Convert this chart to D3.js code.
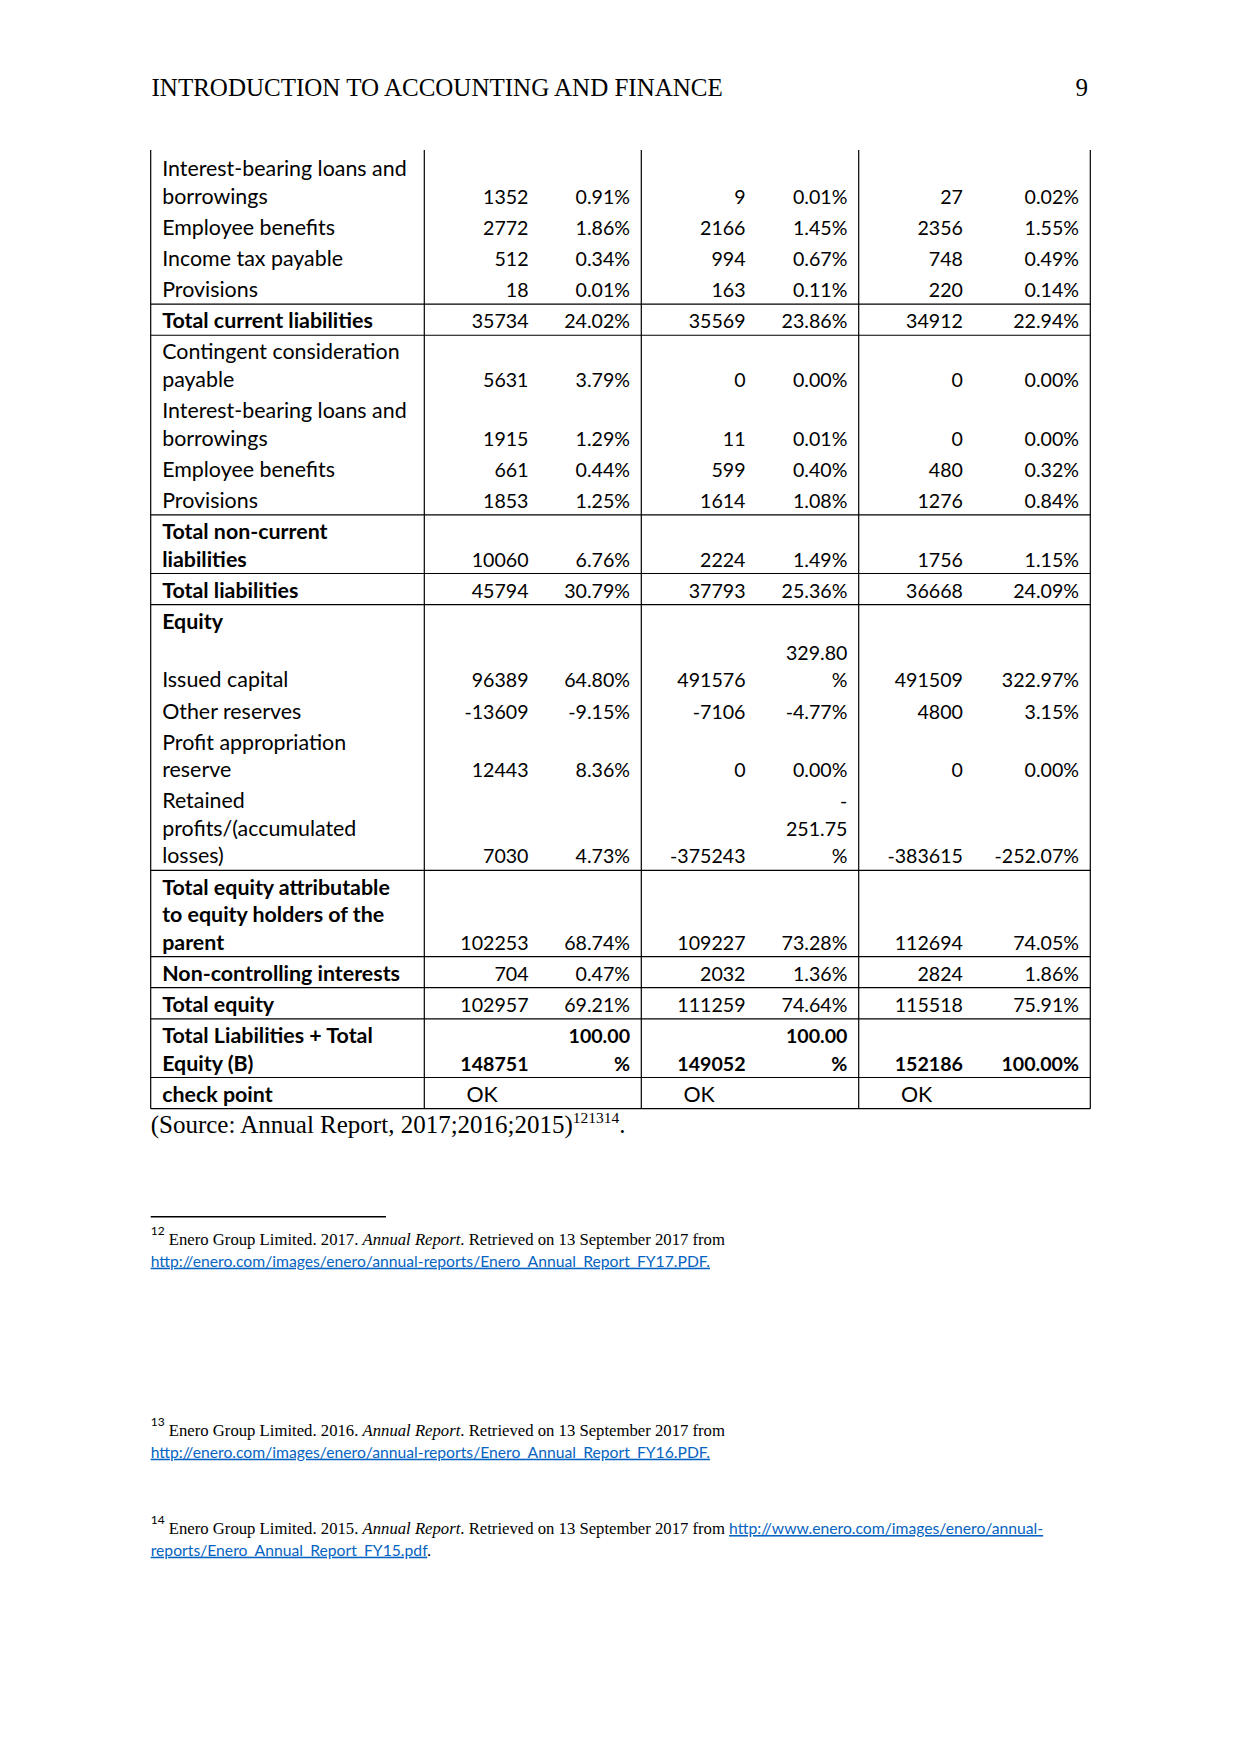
<!DOCTYPE html>
<html><head><meta charset="utf-8">
<script src="https://cdn.jsdelivr.net/npm/d3@7"></script>
<style>html,body{margin:0;padding:0;background:#fff} svg{display:block}</style>
</head><body>
<script>
// ---------------- DATA ----------------
const years = ["2017", "2016", "2015"];

const labels = [
  "Interest-bearing loans and borrowings",
  "Employee benefits",
  "Income tax payable",
  "Provisions",
  "Total current liabilities",
  "Contingent consideration payable",
  "Interest-bearing loans and borrowings",
  "Employee benefits",
  "Provisions",
  "Total non-current liabilities",
  "Total liabilities",
  "Equity",
  "Issued capital",
  "Other reserves",
  "Profit appropriation reserve",
  "Retained profits/(accumulated losses)",
  "Total equity attributable to equity holders of the parent",
  "Non-controlling interests",
  "Total equity",
  "Total Liabilities + Total Equity (B)",
  "check point"
];

const rowKinds = ["item","item","item","item","total","item","item","item","item","total",
  "total","heading","item","item","item","item","total","total","total","grand","check"];

const values2017 = [1352, 2772, 512, 18, 35734, 5631, 1915, 661, 1853, 10060, 45794, null,
  96389, -13609, 12443, 7030, 102253, 704, 102957, 148751, "OK"];
const pct2017 = [0.91, 1.86, 0.34, 0.01, 24.02, 3.79, 1.29, 0.44, 1.25, 6.76, 30.79, null,
  64.80, -9.15, 8.36, 4.73, 68.74, 0.47, 69.21, 100.00, null];

const values2016 = [9, 2166, 994, 163, 35569, 0, 11, 599, 1614, 2224, 37793, null,
  491576, -7106, 0, -375243, 109227, 2032, 111259, 149052, "OK"];
const pct2016 = [0.01, 1.45, 0.67, 0.11, 23.86, 0.00, 0.01, 0.40, 1.08, 1.49, 25.36, null,
  329.80, -4.77, 0.00, -251.75, 73.28, 1.36, 74.64, 100.00, null];

const values2015 = [27, 2356, 748, 220, 34912, 0, 0, 480, 1276, 1756, 36668, null,
  491509, 4800, 0, -383615, 112694, 2824, 115518, 152186, "OK"];
const pct2015 = [0.02, 1.55, 0.49, 0.14, 22.94, 0.00, 0.00, 0.32, 0.84, 1.15, 24.09, null,
  322.97, 3.15, 0.00, -252.07, 74.05, 1.86, 75.91, 100.00, null];

const headerTitle = "INTRODUCTION TO ACCOUNTING AND FINANCE";
const pageNumber = "9";
const sourceText = "(Source: Annual Report, 2017;2016;2015)";
const sourceRefs = "121314";
const footnoteNums = ["12", "13", "14"];
const footnoteYears = ["2017", "2016", "2015"];
const footnoteLinks = [
  "http://enero.com/images/enero/annual-reports/Enero_Annual_Report_FY17.PDF.",
  "http://enero.com/images/enero/annual-reports/Enero_Annual_Report_FY16.PDF.",
  "http://www.enero.com/images/enero/annual-reports/Enero_Annual_Report_FY15.pdf"
];

// ---------------- LAYOUT ----------------
const W = 1241, H = 1754;
const SANS = "Lato, Carlito, 'Open Sans', sans-serif";
const SERIF = "'Liberation Serif', 'Times New Roman', serif";
const FS = 21.4, NUM_FS = 19.6;
const LINE = 27.5, ROW1 = 31.15, BASE_OFF = 7;
const tableLeft = 150.7, frameTop = 150, tableTop = 152;
const colWidths = [273.6, 217, 217.4, 231.6];
const valueCellW = 115.7, cellPad = 11.5, labelWrapPad = 12.3, pctPad = 11.3, pctWrapPad = 13.5;
const LINK = "#0563C1";

const loc = d3.formatLocale({decimal: ".", thousands: ",", grouping: [3], currency: ["", ""], minus: "-"});
const fmtVal = loc.format("d");
const fmtPct = v => loc.format(".2f")(v) + "%";

const valuesByYear = [values2017, values2016, values2015];
const pctByYear = [pct2017, pct2016, pct2015];

const svg = d3.select("body").append("svg").attr("width", W).attr("height", H);
svg.append("rect").attr("width", W).attr("height", H).attr("fill", "#fff");

const meas = svg.append("text").attr("visibility", "hidden").attr("font-family", SANS);
function measure(s, weight, size) {
  meas.attr("font-weight", weight).attr("font-size", size).text(s);
  return meas.node().getComputedTextLength();
}
function wrapWords(s, weight, maxW) {
  const words = s.split(" ");
  const lines = [];
  let cur = "";
  words.forEach(w => {
    const trial = cur ? cur + " " + w : w;
    if (cur && measure(trial, weight, FS) > maxW) { lines.push(cur); cur = w; }
    else cur = trial;
  });
  if (cur) lines.push(cur);
  return lines;
}
function wrapPct(s, weight, maxW) {
  if (measure(s, weight, NUM_FS) <= maxW) return [s];
  return s.match(/-|[0-9.]+|%/g);
}

// column scale
const colKeys = ["label", ...years];
const colEdges = [tableLeft, ...Array.from(d3.cumsum(colWidths), c => tableLeft + c)];
const colX = d3.scaleOrdinal().domain(colKeys).range(colEdges.slice(0, 4));
const colW = d3.scaleOrdinal().domain(colKeys).range(colWidths);

// build cells
const rows = labels.map((lab, i) => {
  const kind = rowKinds[i];
  const labWeight = kind === "item" ? 400 : 700;
  const valWeight = kind === "grand" ? 700 : 400;
  const labLines = wrapWords(lab, labWeight, colW("label") - 2 * labelWrapPad);
  const cells = years.map((y, j) => {
    const v = valuesByYear[j][i], p = pctByYear[j][i];
    const vText = v == null ? null : (typeof v === "string" ? v : fmtVal(v));
    const pMax = colW(y) - valueCellW - 2 * pctWrapPad;
    const pLines = p == null ? [] : wrapPct(fmtPct(p), valWeight, pMax);
    return {year: y, vText, pLines, isCheck: typeof v === "string"};
  });
  const n = Math.max(labLines.length, ...cells.map(c => c.pLines.length), 1);
  return {kind, labWeight, valWeight, labLines, cells, n};
});
const heights = rows.map(r => ROW1 + (r.n - 1) * LINE);
const bottoms = Array.from(d3.cumsum(heights), c => tableTop + c);
rows.forEach((r, i) => { r.bottom = bottoms[i]; r.top = bottoms[i] - heights[i]; });
const tableBottom = bottoms[bottoms.length - 1];
const tableRight = colEdges[colEdges.length - 1];

const gT = svg.append("g").attr("font-family", SANS).attr("fill", "#000");
function drawLines(lines, x, baseBottom, anchor, weight, size) {
  lines.forEach((t, k) => {
    gT.append("text").attr("x", x).attr("y", baseBottom - (lines.length - 1 - k) * LINE)
      .attr("text-anchor", anchor).attr("font-weight", weight).attr("font-size", size).text(t);
  });
}
rows.forEach(r => {
  const bb = r.bottom - BASE_OFF;
  drawLines(r.labLines, colX("label") + cellPad, bb, "start", r.labWeight, FS);
  r.cells.forEach(c => {
    const x0 = colX(c.year);
    if (c.vText != null) {
      if (c.isCheck) drawLines([c.vText], x0 + valueCellW / 2, bb, "middle", 400, FS);
      else drawLines([c.vText], x0 + valueCellW - cellPad, bb, "end", r.valWeight, NUM_FS);
    }
    if (c.pLines.length) drawLines(c.pLines, x0 + colW(c.year) - pctPad, bb, "end", r.valWeight, NUM_FS);
  });
});

// borders
const gB = svg.append("g").attr("stroke", "#000").attr("stroke-width", 1.2);
colEdges.forEach(x => gB.append("line").attr("x1", x).attr("x2", x).attr("y1", frameTop).attr("y2", tableBottom));
const hy = new Set();
rows.forEach(r => { if (r.kind === "total" || r.kind === "grand" || r.kind === "check") { hy.add(r.top.toFixed(2)); hy.add(r.bottom.toFixed(2)); } });
[...hy].forEach(y => gB.append("line").attr("x1", tableLeft).attr("x2", tableRight).attr("y1", +y).attr("y2", +y));

// header
svg.append("text").attr("x", 151.5).attr("y", 96).attr("font-family", SERIF).attr("font-size", 25)
  .attr("fill", "#000").text(headerTitle);
svg.append("text").attr("x", 1088).attr("y", 96).attr("font-family", SERIF).attr("font-size", 25)
  .attr("text-anchor", "end").attr("fill", "#000").text(pageNumber);

// source line
const src = svg.append("text").attr("x", tableLeft).attr("y", tableBottom + 24).attr("font-family", SERIF)
  .attr("font-size", 25).attr("fill", "#000");
src.append("tspan").text(sourceText);
src.append("tspan").attr("font-size", 15.5).attr("dy", -10).text(sourceRefs);
src.append("tspan").attr("dy", 10).text(".");

// footnote separator
svg.append("line").attr("x1", tableLeft).attr("x2", 386).attr("y1", 1216.7).attr("y2", 1216.7)
  .attr("stroke", "#000").attr("stroke-width", 1.4);

const fnBase = [1245, 1436, 1534];
const FN = 16.7, FNLINE = 21.7, LINKFS = 15.7;
footnoteNums.forEach((num, i) => {
  const t = svg.append("text").attr("x", tableLeft).attr("y", fnBase[i]).attr("font-family", SERIF)
    .attr("font-size", FN).attr("fill", "#000");
  t.append("tspan").attr("font-family", SANS).attr("font-size", 12).attr("dy", -10).text(num);
  t.append("tspan").attr("dy", 10).text(" Enero Group Limited. " + footnoteYears[i] + ". ");
  t.append("tspan").attr("font-style", "italic").text("Annual Report");
  t.append("tspan").text(". Retrieved on 13 September 2017 from");
  const link = footnoteLinks[i];
  if (i < 2) {
    svg.append("text").attr("x", tableLeft).attr("y", fnBase[i] + FNLINE).attr("font-family", SANS)
      .attr("font-size", LINKFS).attr("fill", LINK).style("text-decoration", "underline").text(link);
  } else {
    const cut = link.indexOf("annual-") + "annual-".length;
    t.append("tspan").text(" ");
    t.append("tspan").attr("font-family", SANS).attr("font-size", LINKFS).attr("fill", LINK)
      .style("text-decoration", "underline").text(link.slice(0, cut));
    const t2 = svg.append("text").attr("x", tableLeft).attr("y", fnBase[i] + FNLINE).attr("font-size", LINKFS)
      .attr("font-family", SANS);
    t2.append("tspan").attr("fill", LINK).style("text-decoration", "underline").text(link.slice(cut));
    t2.append("tspan").attr("fill", "#000").text(".");
  }
});
meas.remove();
</script>
</body></html>
